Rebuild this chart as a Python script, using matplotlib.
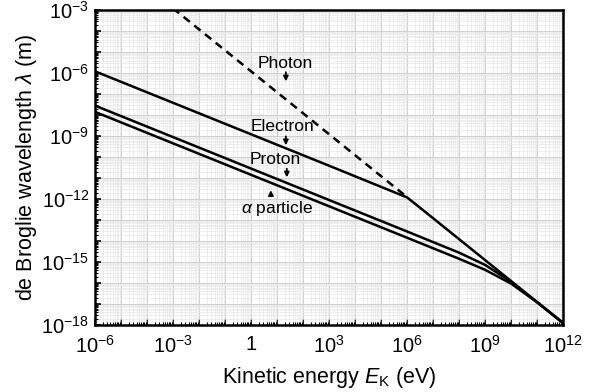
import matplotlib
matplotlib.use("Agg")
import matplotlib.pyplot as plt
import numpy as np
from matplotlib.ticker import LogLocator, FuncFormatter, NullFormatter

plt.rcParams['font.family'] = ['Liberation Sans', 'DejaVu Sans']
plt.rcParams['mathtext.fontset'] = 'custom'
plt.rcParams['mathtext.rm'] = 'Liberation Sans'
plt.rcParams['mathtext.it'] = 'Liberation Sans:italic'

# kinetic energy (eV) and wavelength (m)
photon_E = [1e-3, 1e0, 1e3, 1.1e6]
photon_lam = [1.24e-3, 1.24e-6, 1.24e-9, 1.13e-12]

electron_E = [1e-6, 1e0, 1e3, 1e6, 2e6, 1e7, 1e9, 1e12]
electron_lam = [1.23e-6, 1.23e-9, 3.9e-11, 1.2e-12, 6.1e-13,
                1.23e-13, 1.24e-15, 1.24e-18]

proton_E = [1e-6, 1e0, 1e6, 1e8, 1e9, 1e10, 1e11, 1e12]
proton_lam = [2.86e-8, 2.86e-11, 2.86e-14, 2.79e-15, 7.31e-16,
              1.14e-16, 1.23e-17, 1.24e-18]

alpha_E = [1e-6, 1e0, 1e6, 1e8, 1e9, 1e10, 1e11, 1e12]
alpha_lam = [1.44e-8, 1.44e-11, 1.44e-14, 1.43e-15, 4.26e-16,
             9.39e-17, 1.20e-17, 1.24e-18]

fig = plt.figure(figsize=(5.89, 3.92), dpi=100)
ax = fig.add_axes([0.161, 0.171, 0.795, 0.803])

ax.plot(photon_E, photon_lam, color='black', lw=1.8, ls=(0, (3.2, 2.3)))
ax.plot(electron_E, electron_lam, color='black', lw=1.8)
ax.plot(proton_E, proton_lam, color='black', lw=1.8)
ax.plot(alpha_E, alpha_lam, color='black', lw=1.8)

ax.set_xscale('log')
ax.set_yscale('log')
ax.set_xlim(1e-6, 1e12)
ax.set_ylim(1e-18, 1e-3)

def fmt(v, pos):
    e = int(round(np.log10(v)))
    if e % 3 != 0:
        return ''
    if e == 0:
        return '1'
    return r'$10^{%d}$' % e

for axis in (ax.xaxis, ax.yaxis):
    axis.set_major_locator(LogLocator(base=10, numticks=30))
    axis.set_minor_locator(LogLocator(base=10, subs=np.arange(2, 10), numticks=30))
    axis.set_major_formatter(FuncFormatter(fmt))
    axis.set_minor_formatter(NullFormatter())

ax.tick_params(which='major', direction='in', length=4, width=1.2, labelsize=14.5)
ax.tick_params(which='minor', direction='in', length=2, width=0.8)
ax.tick_params(axis='x', pad=7)
ax.tick_params(axis='y', pad=4)

ax.grid(True, which='major', color='#cfcfcf', lw=0.7)
ax.grid(True, which='minor', color='#e8e8e8', lw=0.5)
ax.set_axisbelow(True)

for s in ax.spines.values():
    s.set_linewidth(1.8)

ax.set_xlabel(r'Kinetic energy $\mathit{E}_{\mathrm{K}}$ (eV)', fontsize=15.5, labelpad=6)
ax.set_ylabel(r'de Broglie wavelength $\lambda$ (m)', fontsize=15.5, labelpad=2)

arrow = dict(arrowstyle='-|>', color='black', lw=1.3, mutation_scale=7)
fs = 12.5
ax.text(0.406, 0.832, 'Photon', transform=ax.transAxes, ha='center', va='center', fontsize=fs)
ax.annotate('', xy=(0.408, 0.765), xytext=(0.408, 0.812), xycoords='axes fraction', arrowprops=arrow)
ax.text(0.40, 0.629, 'Electron', transform=ax.transAxes, ha='center', va='center', fontsize=fs)
ax.annotate('', xy=(0.408, 0.562), xytext=(0.408, 0.608), xycoords='axes fraction', arrowprops=arrow)
ax.text(0.385, 0.527, 'Proton', transform=ax.transAxes, ha='center', va='center', fontsize=fs)
ax.annotate('', xy=(0.41, 0.46), xytext=(0.41, 0.505), xycoords='axes fraction', arrowprops=arrow)
ax.text(0.39, 0.371, r'$\alpha$ particle', transform=ax.transAxes, ha='center', va='center', fontsize=fs)
ax.annotate('', xy=(0.376, 0.437), xytext=(0.376, 0.401), xycoords='axes fraction', arrowprops=arrow)

fig.savefig('out.png', dpi=100)
